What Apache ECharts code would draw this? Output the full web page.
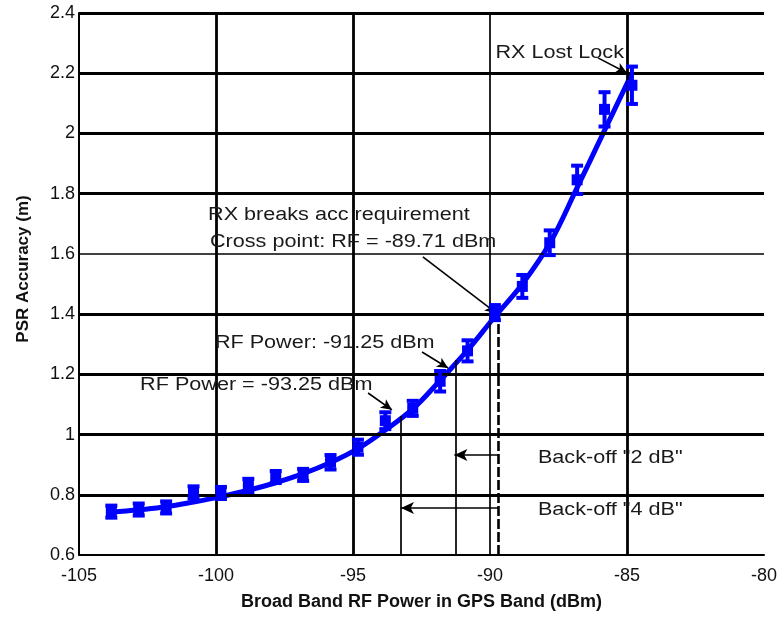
<!DOCTYPE html>
<html><head><meta charset="utf-8">
<script src="https://cdn.jsdelivr.net/npm/echarts@6/dist/echarts.min.js"></script>
<style>html,body{margin:0;padding:0;background:#fff}#c{width:783px;height:617px}</style>
</head><body><div id="c"></div>
<script>
// ---- data ----
const rfPower = [-103.82,-102.82,-101.82,-100.82,-99.82,-98.82,-97.82,-96.82,-95.82,-94.82,-93.82,-92.82,-91.82,-90.82,-89.82,-88.82,-87.82,-86.82,-85.82,-84.82];
const psrMean = [0.744,0.751,0.758,0.808,0.806,0.831,0.859,0.866,0.908,0.958,1.046,1.087,1.177,1.278,1.405,1.492,1.637,1.846,2.08,2.16];
const psrErr  = [0.02,0.02,0.02,0.02,0.02,0.022,0.02,0.02,0.024,0.025,0.028,0.025,0.034,0.035,0.025,0.038,0.041,0.047,0.057,0.062];
const fitCurve = [0.742,0.750,0.760,0.776,0.794,0.815,0.840,0.870,0.907,0.953,1.015,1.085,1.18,1.28,1.392,1.50,1.635,1.82,2.01,2.2];
const xTicks = [-105,-100,-95,-90,-85,-80];
const yTicks = [0.6,0.8,1.0,1.2,1.4,1.6,1.8,2.0,2.2,2.4];
const xGrid = [-100,-95,-90,-85];
const yGrid = [0.8,1.0,1.2,1.4,1.6,1.8,2.0,2.2,2.4];
const markRF = [-93.25,-91.25];
const markAcc = [1.062,1.248];
const crossRF = -89.71, crossAcc = 1.40;
const backoff2Acc = 0.932, backoff4Acc = 0.756;
const notes = [
  {text:'RX Lost Lock', x:-89.8, y:2.268},
  {text:'RX breaks acc requirement', x:-100.29, y:1.73},
  {text:'Cross point: RF = -89.71 dBm', x:-100.22, y:1.64},
  {text:'RF Power: -91.25 dBm', x:-100.04, y:1.304},
  {text:'RF Power = -93.25 dBm', x:-102.77, y:1.165},
  {text:'Back-off "2 dB"', x:-88.25, y:0.922},
  {text:'Back-off "4 dB"', x:-88.25, y:0.75}
];
const arrows = [
  [[-86.06,2.251],[-85.0,2.201]],
  [[-92.45,1.59],[-89.78,1.404]],
  [[-92.48,1.274],[-91.53,1.221]],
  [[-94.45,1.138],[-93.58,1.082]]
];
// ---------------------------------------

const FONT = 'Liberation Sans';
const chart = echarts.init(document.getElementById('c'), null, {renderer:'canvas'});

const gridLines = [];
xGrid.forEach(v => gridLines.push({xAxis:v, lineStyle:{color:'#000', width: v===-90 ? 1.7 : 2.8, type:'solid'}}));
yGrid.forEach(v => gridLines.push({yAxis:v, lineStyle:{color:'#000', width: Math.abs(v-1.6)<1e-6 ? 1.5 : 2.8, type:'solid'}}));

const annLines = [];
markRF.forEach((r,i) => annLines.push([{coord:[r,0.6], symbol:'none'},{coord:[r,markAcc[i]], symbol:'none', lineStyle:{color:'#000', width:1.7, type:'solid'}}]));
annLines.push([{coord:[crossRF,0.6], symbol:'none'},{coord:[crossRF,crossAcc], symbol:'none', lineStyle:{color:'#000', width:2.6, type:[10,3]}}]);
annLines.push([{coord:[crossRF,backoff2Acc], symbol:'none'},{coord:[-91.3,backoff2Acc], symbol:'arrow', symbolSize:[9,13], lineStyle:{color:'#000', width:1.5, type:'solid'}}]);
annLines.push([{coord:[crossRF,backoff4Acc], symbol:'none'},{coord:[markRF[0],backoff4Acc], symbol:'arrow', symbolSize:[9,13], lineStyle:{color:'#000', width:1.5, type:'solid'}}]);
arrows.forEach(a => annLines.push([{coord:a[0], symbol:'none'},{coord:a[1], symbol:'arrow', symbolSize:[8,11], lineStyle:{color:'#000', width:1.6, type:'solid'}}]));

const errData = rfPower.map((x,i) => [x, psrMean[i]-psrErr[i], psrMean[i]+psrErr[i], psrMean[i]]);
const fitData = rfPower.map((x,i) => [x, fitCurve[i]]);

const option = {
  animation:false,
  backgroundColor:'#fff',
  grid:{left:79, right:19, top:13, bottom:62, containLabel:false},
  xAxis:{
    type:'value', min:xTicks[0], max:xTicks[xTicks.length-1], interval:5,
    name:'Broad Band RF Power in GPS Band (dBm)', nameLocation:'middle', nameGap:38,
    nameTextStyle:{fontFamily:FONT, fontSize:18, fontWeight:'bold', color:'#111'},
    axisLine:{show:true, onZero:false, lineStyle:{color:'#000', width:2}},
    axisTick:{show:false}, splitLine:{show:false},
    axisLabel:{fontFamily:FONT, fontSize:18, color:'#111', margin:12}
  },
  yAxis:{
    type:'value', min:yTicks[0], max:yTicks[yTicks.length-1], interval:0.2,
    name:'PSR Accuracy (m)', nameLocation:'middle', nameGap:47,
    nameTextStyle:{fontFamily:FONT, fontSize:17, fontWeight:'bold', color:'#111', padding:[0,0,0,30]},
    axisLine:{show:true, onZero:false, lineStyle:{color:'#000', width:2}},
    axisTick:{show:false}, splitLine:{show:false},
    axisLabel:{fontFamily:FONT, fontSize:18, color:'#111', margin:4}
  },
  series:[
    {type:'line', data:[], z:1, silent:true,
     markLine:{silent:true, symbol:['none','none'], label:{show:false}, data:gridLines, animation:false}},
    {type:'line', data:[], z:2, silent:true,
     markLine:{silent:true, symbol:['none','none'], label:{show:false}, data:annLines, animation:false}},
    {type:'line', name:'fit', data:fitData, smooth:0.4, showSymbol:false, z:4,
     lineStyle:{color:'#0000ff', width:5}},
    {type:'custom', name:'measured', z:5, data:errData, encode:{x:0, y:[1,2]},
     renderItem:function(params, api){
       const x = api.value(0), lo = api.value(1), hi = api.value(2), m = api.value(3);
       const pLo = api.coord([x,lo]), pHi = api.coord([x,hi]), pM = api.coord([x,m]);
       const w = 6;
       const st = {stroke:'#0000ff', lineWidth:4};
       return {type:'group', children:[
         {type:'line', shape:{x1:pLo[0], y1:pLo[1], x2:pHi[0], y2:pHi[1]}, style:st},
         {type:'line', shape:{x1:pLo[0]-w, y1:pLo[1], x2:pLo[0]+w, y2:pLo[1]}, style:st},
         {type:'line', shape:{x1:pHi[0]-w, y1:pHi[1], x2:pHi[0]+w, y2:pHi[1]}, style:st},
         {type:'rect', shape:{x:pM[0]-5.5, y:pM[1]-5.5, width:11, height:11}, style:{fill:'#0000ff'}}
       ]};
     }}
  ]
};
chart.setOption(option);

const graphics = notes.map(n => {
  const p = chart.convertToPixel({gridIndex:0}, [n.x, n.y]);
  return {type:'text', x:p[0], y:p[1], scaleX:1.2, z:10, silent:true,
    style:{text:n.text, fontFamily:FONT, fontSize:18, fill:'#1a1a1a', align:'left', verticalAlign:'middle'}};
});
chart.setOption({graphic:graphics});
</script></body></html>
